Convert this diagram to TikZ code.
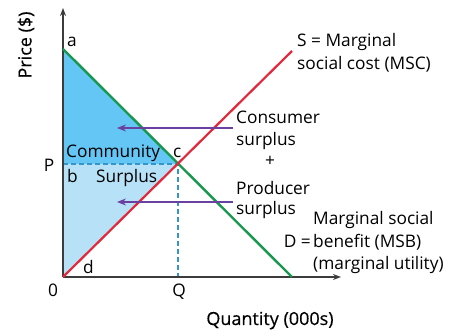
\documentclass[tikz,border=0pt]{standalone}
\usepackage{fontspec}
\setmainfont{Open Sans}
\newfontfamily\axisfont[FakeBold=0.4]{Open Sans}
\usetikzlibrary{arrows.meta}
\definecolor{DemandGreen}{RGB}{24,152,78}
\definecolor{SupplyRed}{RGB}{226,40,58}
\definecolor{ArrowPurple}{RGB}{106,64,160}
\definecolor{UpperBlue}{RGB}{100,198,244}
\definecolor{LowerBlue}{RGB}{182,225,246}
\definecolor{DashBlue}{RGB}{50,150,200}
\definecolor{AxisGray}{RGB}{60,60,60}

\begin{document}
\begin{tikzpicture}[x=1pt, y=-1pt, font=\fontsize{17.3}{23}\selectfont,
  lbl/.style={anchor=base west, inner sep=0pt},
  axistitle/.style={inner sep=0pt, font=\axisfont\fontsize{18}{23}\selectfont},
  axisline/.style={AxisGray, line width=1.8pt, -{Stealth[length=8pt, width=6pt]}},
  shiftarrow/.style={ArrowPurple, line width=1.8pt, -{Stealth[length=9pt, width=7pt]}}]
  \useasboundingbox (0,0) rectangle (451,336);
  % key points
  \coordinate (O) at (63,277);
  \coordinate (a) at (63,49);
  \coordinate (c) at (178,164);
  \coordinate (P) at (63,164);
  \coordinate (Q) at (178,277);
  \coordinate (dend) at (292,277);
  \coordinate (send) at (292,51);
  \coordinate (ytop) at (63,8);
  \coordinate (xend) at (341,277);
  % surplus areas
  \fill[UpperBlue] (a) -- (c) -- (P) -- cycle;
  \fill[LowerBlue] (P) -- (c) -- (O) -- cycle;
  \draw[DashBlue, line width=1.3pt, dash pattern=on 5pt off 3pt] (P) -- (c) -- (Q);
  % axes
  \draw[axisline] (O) -- (ytop);
  \draw[axisline] (O) -- (xend);
  % demand and supply
  \draw[DemandGreen, line width=2.4pt] (a) -- (dend);
  \draw[SupplyRed, line width=2.2pt] (O) -- (send);
  % arrows
  \coordinate (cs) at (233,128);
  \coordinate (cs') at (117,128);
  \coordinate (ps) at (233,202);
  \coordinate (ps') at (117,202);
  \draw[shiftarrow] (cs) -- (cs');
  \draw[shiftarrow] (ps) -- (ps');
  % labels
  \node[axistitle, rotate=90] (price) at (26,45) {Price (\$)};
  \node[axistitle, anchor=base] (qty) at (270,325) {Quantity (000s)};
  \node[lbl] (la) at (67,47) {a};
  \node[lbl] (lb) at (67,183) {b};
  \node[lbl] (lc) at (173,158) {c};
  \node[lbl] (ld) at (83,274) {d};
  \node[anchor=base, inner sep=0pt] (lP) at (49,172) {P};
  \node[anchor=base, inner sep=0pt] (l0) at (53,297) {0};
  \node[anchor=base, inner sep=0pt] (lQ) at (179,297) {Q};
  \node[lbl] (comm) at (66,158) {Community};
  \node[lbl] (surp) at (96,183) {Surplus};
  \node[lbl] (s1) at (297,47) {S = Marginal};
  \node[lbl] (s2) at (297,70) {social cost (MSC)};
  \node[lbl] (cs1) at (236,124) {Consumer};
  \node[lbl] (cs2) at (236,146) {surplus};
  \node[inner sep=0pt] (plus) at (270,161) {+};
  \node[lbl] (ps1) at (236,195) {Producer};
  \node[lbl] (ps2) at (236,215) {surplus};
  \node[lbl] (d1) at (313,225) {Marginal social};
  \node[lbl] (d2) at (313,248) {benefit (MSB)};
  \node[anchor=base east, inner sep=0pt] (d0) at (311,248) {D =};
  \node[lbl] (d3) at (313,270) {(marginal utility)};
\end{tikzpicture}
\end{document}
